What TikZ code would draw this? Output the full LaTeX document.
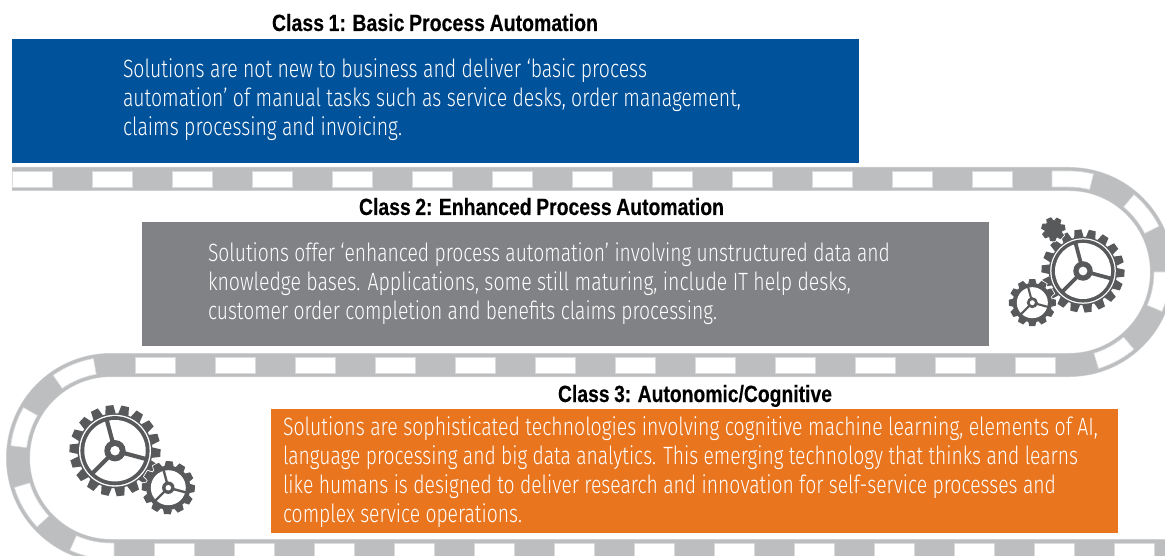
\documentclass[tikz,border=0pt]{standalone}
\usepackage{graphicx}
\usepackage{fontspec}
\setmainfont{Liberation Sans}
\newfontfamily\bodyfont[UprightFont={* Light}]{Fira Sans}
\newfontfamily\headfont[WordSpace=0.85,BoldFont={Liberation Sans Bold},BoldFeatures={FakeBold=0.25}]{Liberation Sans}
\definecolor{bandgrey}{HTML}{BCBEC0}
\definecolor{bandedge}{HTML}{DADBDC}
\definecolor{geargrey}{HTML}{58595B}
\definecolor{boxblue}{HTML}{00529B}
\definecolor{boxgrey}{HTML}{808285}
\definecolor{boxorange}{HTML}{E9751F}
\newsavebox\fitbox
\newcommand{\fitline}[2]{\sbox\fitbox{#2}\pgfmathsetmacro\fitsc{#1/\wd\fitbox}\scalebox{\fitsc}[1]{\usebox\fitbox}}
\newcommand{\bodyline}[6][white]{\node[txt,text=#1] (#2) at (#3,#4) {\fitline{#5}{\fontsize{25}{29}\bodyfont #6}};}
\newcommand{\headline}[5]{\node[txt,text=black] (#1) at (#2,#3) {\fitline{#4}{\fontsize{23.5}{28}\headfont\bfseries #5}};}
\newcommand{\arcdash}[4]{\path[dashmark] ($(#1,#2)+(#3:101)$) arc (#3:#4:101) -- ($(#1,#2)+(#4:85)$) arc (#4:#3:85) -- cycle;}
% teeth and body of a gear: R, root factor, teeth, offset, style
\newcommand{\geartooth}[5]{%
  \pgfmathsetmacro\tipw{#1*0.24*6.2832/#3}%
  \pgfmathsetmacro\basw{#1*0.33*6.2832/#3}%
  \pgfmathsetmacro\rootr{#1*#2}%
  \foreach \k in {1,...,#3}{%
    \path[#5,rotate=#4+360/#3*\k] (\rootr,-\basw) -- (#1,-\tipw) -- (#1,\tipw) -- (\rootr,\basw) -- cycle;}%
  \path[#5] (0,0) circle[radius=\rootr+0.6];}
\newcommand{\gear}[6]{%
  \begin{scope}[shift={(#1,#2)}]
    \geartooth{#3}{0.81}{#4}{#5}{halo}
    \geartooth{#3}{0.81}{#4}{#5}{gearfill}
    \ifnum#6=1
      \fill[white] (0,0) circle[radius=#3*0.79];
      \fill[geargrey] (0,0) circle[radius=#3*0.76];
      \fill[white] (0,0) circle[radius=#3*0.675];
    \else
      \fill[white] (0,0) circle[radius=#3*0.66];
    \fi
    \foreach \a in {105,225,-15}{\draw[geargrey,line width=#3*0.09] (0,0) -- (\a:#3*0.7);}
    \fill[geargrey] (0,0) circle[radius=#3*0.235];
    \fill[white] (0,0) circle[radius=#3*0.105];
  \end{scope}}
\usetikzlibrary{calc}
\tikzset{
  txt/.style={anchor=base west,inner sep=0pt,outer sep=0pt},
  panel/.style={anchor=south west,inner sep=0pt,outer sep=0pt,minimum width=847pt,minimum height=124pt,draw=none},
  dashmark/.style={fill=white,draw=bandedge,line width=0.6pt},
  halo/.style={fill=white,draw=white,line width=1.6pt},
  gearfill/.style={fill=geargrey},
}
\begin{document}
\begin{tikzpicture}[x=1pt,y=1pt]
\useasboundingbox (0,0) rectangle (1165,555);
\clip (0,0) rectangle (1165,555);
\fill[white] (0,0) rectangle (1165,555);
% conveyor band
\draw[bandedge,line width=24pt] (12,376) -- (1069,376) arc (90:-90:93) -- (111,190) arc (90:270:93) -- (1165,4);
\draw[bandgrey,line width=23pt] (12,376) -- (1069,376) arc (90:-90:93) -- (111,190) arc (90:270:93) -- (1165,4);
% band 1 windows
\foreach \x in {12,92,...,972}{\path[dashmark] (\x,368) rectangle ++(40,16);}
\path[dashmark] (1052,384) -- (1069,384) arc (90:76:101) -- ($(1069,283)+(76:85)$) arc (76:90:85) -- (1052,368) -- cycle;
\arcdash{1069}{283}{50}{27}
\arcdash{1069}{283}{0}{-23}
\arcdash{1069}{283}{-50}{-73}
% band 2 windows
\foreach \x in {135,215,...,1015}{\path[dashmark] (\x,182) rectangle ++(40,16);}
\arcdash{111}{97}{100}{125}
\arcdash{111}{97}{150}{173}
\arcdash{111}{97}{197}{223}
\path[dashmark] ($(111,97)+(246:101)$) arc (246:270:101) -- (114,-4) -- (114,12) -- (111,12) arc (270:246:85) -- cycle;
% band 3 windows
\foreach \x in {154,234,...,1114}{\path[dashmark] (\x,-4) rectangle ++(40,16);}
% panels
\node[panel,fill=boxblue] (panelone) at (12,392) {};
\node[panel,fill=boxgrey] (paneltwo) at (142,209) {};
\node[panel,fill=boxorange] (panelthree) at (271,22) {};
% headings
\headline{headone}{272}{524}{326}{Class 1: Basic Process Automation}
\headline{headtwo}{359}{340}{365}{Class 2: Enhanced Process Automation}
\headline{headthree}{558}{153}{274}{Class 3: Autonomic/Cognitive}
% panel 1 text
\bodyline{ao}{123}{477}{524}{Solutions are not new to business and deliver ‘basic process}
\bodyline{at}{123}{448}{618}{automation’ of manual tasks such as service desks, order management,}
\bodyline{ar}{123}{419}{279}{claims processing and invoicing.}
% panel 2 text
\bodyline{bo}{208}{293}{682}{Solutions offer ‘enhanced process automation’ involving unstructured data and}
\bodyline{bt}{208}{264}{643}{knowledge bases. Applications, some still maturing, include IT help desks,}
\bodyline{br}{208}{235}{509}{customer order completion and benefits claims processing.}
% panel 3 text
\bodyline{co}{283}{120}{815}{Solutions are sophisticated technologies involving cognitive machine learning, elements of AI,}
\bodyline{ct}{283}{91}{795}{language processing and big data analytics. This emerging technology that thinks and learns}
\bodyline{cr}{283}{62}{773}{like humans is designed to deliver research and innovation for self-service processes and}
\bodyline{cf}{283}{33}{239}{complex service operations.}
% gears, right
\gear{1083}{284}{41.5}{18}{-3}{1}
\gear{1032.3}{252.3}{23.5}{12}{0}{0}
\begin{scope}[shift={(1053.3,325.7)}]
  \geartooth{12}{0.72}{7}{10}{halo}
  \geartooth{12}{0.72}{7}{10}{gearfill}
\end{scope}
% gears, left
\gear{115}{104.3}{45.5}{18}{-3}{1}
\gear{168.3}{67.3}{26.5}{12}{-2}{0}
\end{tikzpicture}
\end{document}
